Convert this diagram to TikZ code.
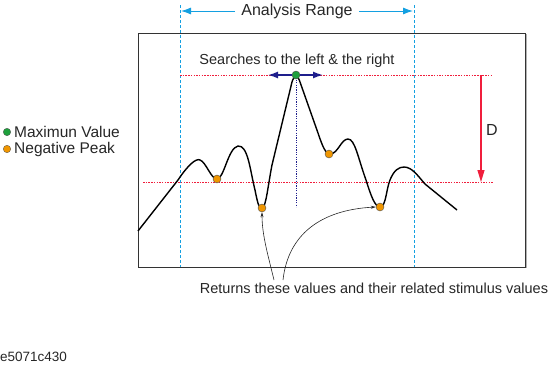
\documentclass[tikz,border=0pt]{standalone}
\usepackage{fontspec}
\setmainfont{Liberation Sans}
\usetikzlibrary{arrows.meta}
\definecolor{cyanl}{RGB}{20,160,225}
\definecolor{redl}{RGB}{240,30,60}
\definecolor{navyl}{RGB}{30,30,140}
\definecolor{greend}{RGB}{30,160,60}
\definecolor{orangd}{RGB}{240,150,0}
\tikzset{
  txt/.style={font=\fontsize{14.5pt}{16pt}\selectfont, inner sep=0pt, text=black!85},
  rng/.style={cyanl, dash pattern=on 3pt off 2pt, line width=1pt},
  refl/.style={redl, dash pattern=on 1.5pt off 1.2pt, line width=0.8pt},
  dotg/.style={circle, draw=black!70, fill=greend, minimum size=8pt, inner sep=0pt, line width=0.4pt},
  doto/.style={circle, draw=black!70, fill=orangd, minimum size=8pt, inner sep=0pt, line width=0.4pt},
  ldot/.style={circle, draw=black!70, inner sep=0pt, minimum size=7.5pt, line width=0.3pt},
}
\begin{document}
\begin{tikzpicture}[x=1pt,y=-1pt]
\useasboundingbox (0,0) rectangle (550,367);
% frame
\draw[black!80, line width=0.8pt] (138,33) rectangle (525,267) ;
\draw[black!30, line width=0.8pt] (526,34) -- (526,268);
% range lines
\coordinate (rl) at (180,5);
\coordinate (rr) at (414,5);
\coordinate (rlb) at (180,267);
\coordinate (rrb) at (414,267);
\draw[rng] (rl) -- (rlb);
\draw[rng] (rr) -- (rrb);
\node[txt, font=\fontsize{16pt}{18pt}\selectfont] (ar) at (297,11) {Analysis Range};
\draw[cyanl, line width=0.9pt, -{Latex[length=10pt,width=7pt]}] (ar.west) ++(-6,0) -- (181,11);
\draw[cyanl, line width=0.9pt, -{Latex[length=10pt,width=7pt]}] (ar.east) ++(6,0) -- (413,11);
% reference lines
\coordinate (t1) at (180,75);
\coordinate (t2) at (493,75);
\coordinate (b1) at (143,182);
\coordinate (b2) at (493,182);
\draw[refl] (t1) -- (t2);
\draw[refl] (b1) -- (b2);
% D arrow
\coordinate (da) at (481,75);
\coordinate (db) at (481,182);
\draw[redl, line width=1.1pt, -{Triangle[length=12pt,width=7pt]}] (da) -- (db);
\node[txt, font=\fontsize{16pt}{18pt}\selectfont] (dl) at (492,130) {D};
% vertical dotted blue
\coordinate (pv) at (296,207);
\draw[navyl, dash pattern=on 1.2pt off 1.2pt, line width=0.7pt] (296,75) -- (pv);
% curve
\draw[black, line width=1.4pt, line join=round]
  (138,231) -- (178,180)
  .. controls (188,165) and (196,158) .. (200,160)
  .. controls (206,162) and (211,179) .. (217,179)
  .. controls (224,179) and (228,148) .. (238,146)
  .. controls (248,145) and (250,170) .. (255,190)
  .. controls (258,205) and (259,208) .. (262,208)
  .. controls (266,208) and (268,185) .. (272,165)
  -- (292,82)
  .. controls (294,75) and (298,75) .. (300,82)
  -- (318,133)
  .. controls (323,148) and (326,154) .. (330,154)
  .. controls (338,154) and (341,139) .. (348,139)
  .. controls (355,139) and (358,158) .. (366,180)
  .. controls (371,196) and (375,207) .. (380,207)
  .. controls (386,207) and (386,190) .. (390,180)
  .. controls (394,170) and (399,167) .. (404,167)
  .. controls (412,167) and (418,176) .. (425,184)
  -- (457,210);
% search arrows
\node[dotg] (mx) at (296,75) {};
\coordinate (sl) at (268,75);
\coordinate (sr) at (323,75);
\draw[navyl, line width=1.4pt, -{Latex[length=10pt,width=7pt]}] (mx.west) -- (sl);
\draw[navyl, line width=1.4pt, -{Latex[length=10pt,width=7pt]}] (mx.east) -- (sr);
\node[txt] (st) at (297,61) {Searches to the left \& the right};
% peaks
\node[doto] (p1) at (217,179) {};
\node[doto] (p2) at (262,208) {};
\node[doto] (p3) at (329,154) {};
\node[doto] (p4) at (380,207) {};
% annotation
\node[txt] (ret) at (374,288) {Returns these values and their related stimulus values};
\coordinate (a1) at (274,280);
\coordinate (a2) at (283,280);
\draw[black!85, line width=0.6pt, -{Stealth[length=5pt,width=3pt]}] (a1) .. controls (268,255) and (262,235) .. (p2.south);
\draw[black!85, line width=0.6pt, -{Stealth[length=5pt,width=3pt]}] (a2) .. controls (288,235) and (320,210) .. (p4.west);
% legend
\node[ldot, fill=greend] (lg) at (7,132) {};
\node[txt, anchor=west, font=\fontsize{15.5pt}{17pt}\selectfont] (lgt) at (14,132) {Maximun Value};
\node[ldot, fill=orangd] (lo) at (7,149) {};
\node[txt, anchor=west, font=\fontsize{15.5pt}{17pt}\selectfont] (lot) at (14,149) {Negative Peak};
\node[txt, anchor=west, font=\fontsize{13.5pt}{15pt}\selectfont] (fig) at (0,357) {e5071c430};
\end{tikzpicture}
\end{document}
